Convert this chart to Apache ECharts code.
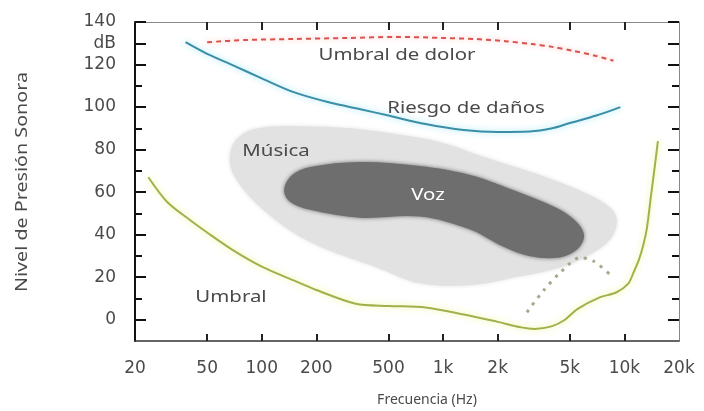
<!DOCTYPE html>
<html>
<head>
<meta charset="utf-8">
<script src="https://cdn.jsdelivr.net/npm/echarts@6/dist/echarts.min.js"></script>
<style>
  html, body { margin: 0; padding: 0; background: #fff; }
  #chart { width: 704px; height: 411px; }
</style>
</head>
<body>
<div id="chart"></div>
<script>
// Frequency ticks (Hz) and level ticks (dB)
const freqTicks = [20, 50, 100, 200, 500, 1000, 2000, 5000, 10000, 20000];
const freqInnerTicks = [50, 100, 200, 500, 1000, 2000, 5000, 10000];
const dbMajorTicks = [0, 20, 40, 60, 80, 100, 120, 130, 140];
const dbMinorTicks = [10, 30, 50, 70, 90, 110];

// Curves: [frequency Hz, level dB]
const umbralDolor = [[50,130.5],[80,131.5],[150,132],[300,132.5],[550,133],[1000,132.5],[1500,132],[2200,131],[3100,129.6],[4000,128.3],[5200,126.5],[7000,124],[8700,121.8]];
const riesgoDanos = [[38,130.5],[50,125],[70,119.5],[100,113.5],[150,107],[240,102],[350,99],[500,96],[800,92],[1300,89.2],[2000,88.3],[3000,88.5],[4000,90],[5000,92.5],[7000,96],[9500,100]];
const umbral = [[23.7,67],[30,55.5],[40,47],[50,41],[70,32.5],[100,25],[150,18.5],[200,14],[330,7.5],[500,6.5],[800,5.8],[1300,2.5],[2000,-1],[2700,-3.6],[3200,-4.3],[4000,-3],[4700,0],[5500,5],[7300,10.5],[9000,12.8],[10500,17],[11200,22],[12000,28],[12700,35],[13300,43],[14000,58],[14700,72],[15300,84]];
const perdida = [[2900,3.5],[3570,13.6],[4420,22.1],[5700,29.2],[6750,27.6],[8700,19.8]];

// Regions: outlines as [frequency Hz, level dB]
const musicaRegion = [[69,82],[81,88],[104,90.5],[163,91],[307,90],[579,87],[962,83.5],[1750,76],[4040,65.8],[6720,57.8],[8550,51.7],[9100,46],[8340,37.7],[6470,30.7],[4420,24.6],[2660,20.4],[1410,16.2],[746,17.1],[432,24.6],[229,33],[149,41],[98,53],[76,63.4],[67,72.8]];
const vozRegion = [[133,61],[147,68],[185,71.8],[348,74.2],[746,72.3],[1410,68.1],[2660,59.7],[4420,51.7],[5550,45.2],[5990,39.1],[5480,33],[4420,29.3],[3020,29.8],[2140,34.4],[1410,42.4],[746,48.5],[348,48],[185,51.7],[143,55.5]];

const tickFont = 'DejaVu Sans';
const textColor = '#4a4a4a';

function fmtFreq(v) {
  return v >= 1000 ? (v / 1000) + 'k' : String(v);
}

function regionSeries(name, pts, fill, z) {
  return {
    name: name,
    type: 'custom',
    z: z,
    silent: true,
    data: pts,
    renderItem: function (params, api) {
      if (params.dataIndex !== 0) return null;
      const points = pts.map(function (p) { return api.coord(p); });
      return {
        type: 'polygon',
        shape: { points: points, smooth: 0.35 },
        style: { fill: fill, shadowBlur: 4, shadowColor: fill }
      };
    }
  };
}

function lineSeries(name, data, style, z) {
  return {
    name: name,
    type: 'line',
    data: data,
    smooth: 0.3,
    showSymbol: false,
    silent: true,
    z: z,
    lineStyle: style
  };
}

function plotLabel(text, x, y, fill) {
  return {
    type: 'text', x: x, y: y, z: 10, scaleX: 1.2,
    style: { text: text, font: '17px "Noto Sans"', fill: fill || textColor, align: 'center', verticalAlign: 'middle' }
  };
}

const chart = echarts.init(document.getElementById('chart'), null, { renderer: 'canvas' });

chart.setOption({
  animation: false,
  backgroundColor: '#ffffff',
  grid: { left: 135, top: 22, right: 25, bottom: 70, containLabel: false, outerBoundsMode: 'none' },
  xAxis: [
    {
      type: 'log', logBase: 10, min: 20, max: 20000, position: 'bottom',
      axisLine: { show: true, onZero: false, lineStyle: { color: '#333', width: 1.5 } },
      axisTick: { show: true, inside: true, length: 7, customValues: freqInnerTicks, lineStyle: { color: '#222', width: 2 } },
      axisLabel: {
        show: true, customValues: freqTicks, formatter: fmtFreq, margin: 19,
        fontFamily: tickFont, fontSize: 17, color: textColor
      },
      splitLine: { show: false }, minorTick: { show: false }, minorSplitLine: { show: false }
    },
    {
      type: 'log', logBase: 10, min: 20, max: 20000, position: 'top',
      axisLine: { show: true, onZero: false, lineStyle: { color: '#888', width: 1 } },
      axisTick: { show: true, inside: true, length: 8, customValues: freqInnerTicks, lineStyle: { color: '#222', width: 2 } },
      axisLabel: { show: false },
      splitLine: { show: false }, minorTick: { show: false }
    }
  ],
  yAxis: [
    {
      type: 'value', min: -10, max: 140, position: 'left',
      axisLine: { show: true, onZero: false, lineStyle: { color: '#111', width: 2 } },
      axisTick: { show: true, inside: true, length: 11, customValues: dbMajorTicks, lineStyle: { color: '#111', width: 2 } },
      axisLabel: {
        show: true, customValues: dbMajorTicks, margin: 19,
        formatter: function (v) { return v === 130 ? 'dB' : String(v); },
        fontFamily: tickFont, fontSize: 17, color: textColor
      },
      splitLine: { show: false }
    },
    {
      type: 'value', min: -10, max: 140, position: 'left',
      axisLine: { show: false, onZero: false },
      axisTick: { show: true, inside: true, length: 7, customValues: dbMinorTicks, lineStyle: { color: '#111', width: 2 } },
      axisLabel: { show: false }, splitLine: { show: false }
    },
    {
      type: 'value', min: -10, max: 140, position: 'right',
      axisLine: { show: true, onZero: false, lineStyle: { color: '#888', width: 1 } },
      axisTick: { show: true, inside: true, length: 11, customValues: dbMajorTicks, lineStyle: { color: '#111', width: 2 } },
      axisLabel: { show: false }, splitLine: { show: false }
    },
    {
      type: 'value', min: -10, max: 140, position: 'right',
      axisLine: { show: false, onZero: false },
      axisTick: { show: true, inside: true, length: 7, customValues: dbMinorTicks, lineStyle: { color: '#111', width: 2 } },
      axisLabel: { show: false }, splitLine: { show: false }
    }
  ],
  series: [
    regionSeries('Música', musicaRegion, '#e2e2e2', 1),
    regionSeries('Voz', vozRegion, '#6e6e6e', 2),
    lineSeries('Umbral de dolor', umbralDolor, {
      color: '#d9534f', width: 2, type: [5, 4],
      shadowBlur: 5, shadowColor: 'rgba(255,170,170,0.9)'
    }, 5),
    lineSeries('Riesgo de daños', riesgoDanos, {
      color: '#3a8ea6', width: 2,
      shadowBlur: 6, shadowColor: 'rgba(140,225,245,0.95)'
    }, 5),
    lineSeries('Umbral', umbral, {
      color: '#a3b04e', width: 2,
      shadowBlur: 6, shadowColor: 'rgba(235,245,130,0.95)'
    }, 5),
    lineSeries('Pérdida', perdida, {
      color: '#a7a98c', width: 3, type: [3, 6], cap: 'butt'
    }, 4)
  ],
  graphic: [
    { type: 'text', x: 22, y: 182, rotation: Math.PI / 2, scaleX: 1.16, z: 10,
      style: { text: 'Nivel de Presión Sonora', font: '17px "Noto Sans"', fill: textColor, align: 'center', verticalAlign: 'middle' } },
    { type: 'text', x: 427, y: 400, z: 10,
      style: { text: 'Frecuencia (Hz)', font: '14px "Noto Sans"', fill: textColor, align: 'center', verticalAlign: 'middle' } },
    plotLabel('Umbral de dolor', 397, 55),
    plotLabel('Riesgo de daños', 466, 108),
    plotLabel('Música', 276, 151),
    plotLabel('Voz', 428, 195, '#ffffff'),
    plotLabel('Umbral', 231, 297)
  ]
});
</script>
</body>
</html>
